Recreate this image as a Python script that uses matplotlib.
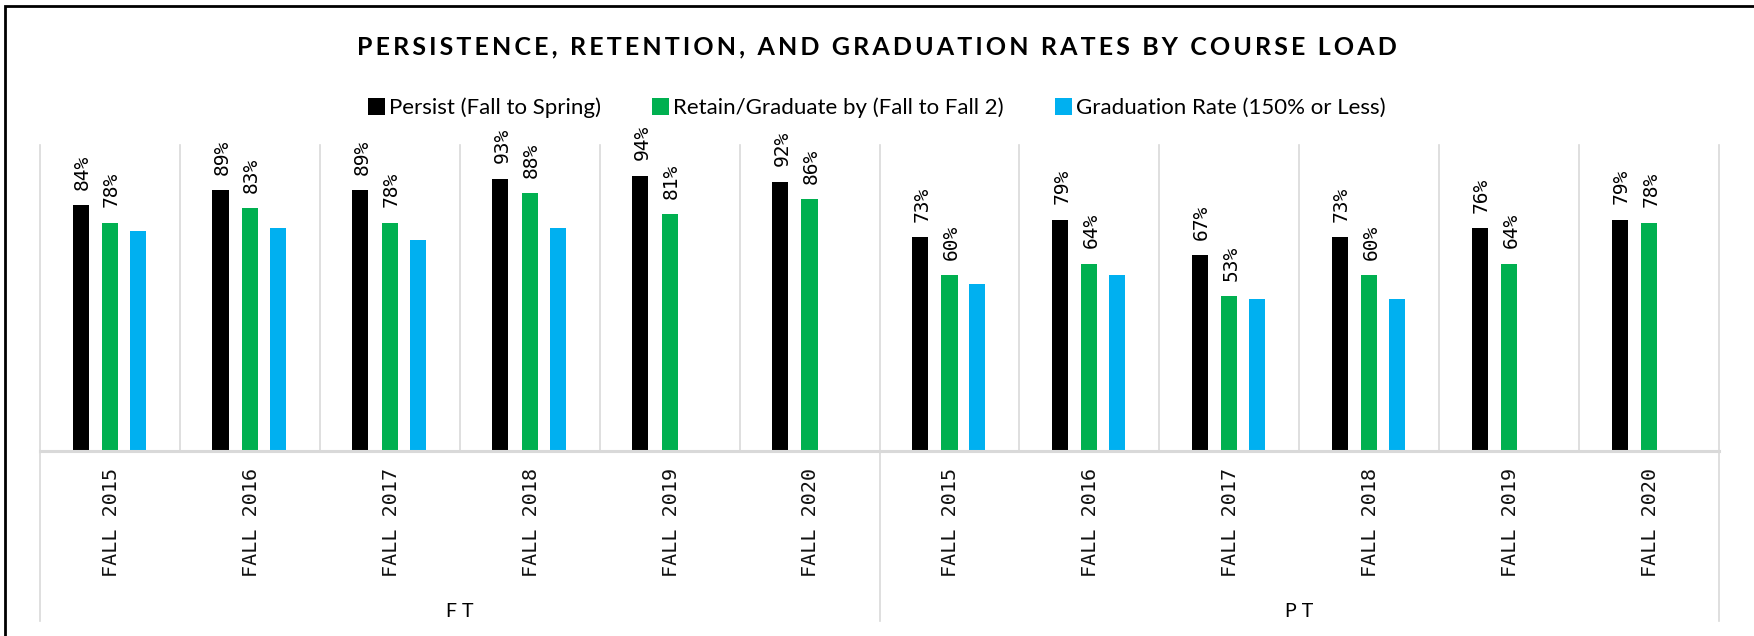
import numpy as np
import matplotlib.pyplot as plt
from matplotlib.patches import Rectangle
from matplotlib.transforms import blended_transform_factory

# ---- data ----
years = ["FALL 2015", "FALL 2016", "FALL 2017", "FALL 2018", "FALL 2019", "FALL 2020"]
loads = ["FT", "PT"]

persist = [0.84, 0.89, 0.89, 0.93, 0.94, 0.92,
           0.73, 0.79, 0.67, 0.73, 0.76, 0.79]
retain = [0.78, 0.83, 0.78, 0.88, 0.81, 0.86,
          0.60, 0.64, 0.53, 0.60, 0.64, 0.78]
grad = [0.75, 0.76, 0.72, 0.76, np.nan, np.nan,
        0.57, 0.60, 0.52, 0.52, np.nan, np.nan]

series = [
    ("Persist (Fall to Spring)", persist, "#000000", True),
    ("Retain/Graduate by (Fall to Fall 2)", retain, "#00B050", True),
    ("Graduation Rate (150% or Less)", grad, "#00B0F0", False),
]

W, H = 1754, 636
fig = plt.figure(figsize=(W / 100, H / 100), dpi=100)

# outer chart border (runs off the right/bottom of the picture)
fig.patches.append(Rectangle((5 / W, -0.05), 1.2, 1 - 6 / H + 0.05,
                             transform=fig.transFigure, fill=False,
                             edgecolor="black", linewidth=2.0))

ax = fig.add_axes([40 / W, (H - 451) / H, (1719 - 40) / W, (451 - 145) / H])

n = len(persist)
x = np.arange(n)
offsets = [-0.21, 0.0, 0.2]
bw = 0.115

for (name, vals, col, labelled), off in zip(series, offsets):
    vals = np.array(vals, dtype=float)
    ax.bar(x + off, vals, width=bw, color=col, label=name, zorder=3)
    if labelled:
        for xi, v in zip(x, vals):
            if np.isnan(v):
                continue
            # monospace font is closest to the original's labels
            ax.annotate(f"{v:.0%}", (xi + off, v), xytext=(1.2, 11),
                        textcoords="offset points", rotation=90,
                        ha="center", va="bottom", fontsize=14,
                        family="DejaVu Sans Mono", color="#000000")

ax.set_xlim(-0.5, n - 0.5)
ax.set_ylim(0, 1.045)
for s in ax.spines.values():
    s.set_visible(False)
ax.set_xticks([])
ax.set_yticks([])

trans = blended_transform_factory(ax.transData, ax.transAxes)
grid_col = "#d9d9d9"
# separators between groups
for b in np.arange(-0.5, n, 1.0):
    outer = b in (-0.5, 5.5, 11.5)
    ax.plot([b, b], [-0.556 if outer else 0, 1], transform=trans,
            color=grid_col, lw=1.2, clip_on=False, zorder=1)
# baseline
ax.plot([-0.5, n - 0.5], [0, 0], transform=trans, color=grid_col,
        lw=2.2, clip_on=False, zorder=4)

# category labels
for i in range(n):
    ax.text(i + 0.01, -(468 - 451) / 306, years[i % len(years)],
            transform=trans, rotation=90, ha="center", va="top",
            fontsize=14.5, family="DejaVu Sans Mono", color="#111111")
for j, ld in enumerate(loads):
    ax.text(2.5 + 6 * j, -0.523, " ".join(ld), transform=trans,
            ha="center", va="center", fontsize=14, family="Lato")

title = "PERSISTENCE, RETENTION, AND GRADUATION RATES BY COURSE LOAD"
fig.text(0.5, 1 - 47 / H, "\u2009".join(title), ha="center", va="center",
         fontsize=18, fontweight="bold", family=["Lato", "DejaVu Sans"])

fig.legend(loc="center", bbox_to_anchor=(0.5, 1 - 108 / H), ncol=3,
           frameon=False, prop={"family": "Lato", "size": 16},
           handlelength=0.75, handleheight=0.75, handletextpad=0.2,
           columnspacing=2.3)

fig.savefig("out.png", dpi=100)
